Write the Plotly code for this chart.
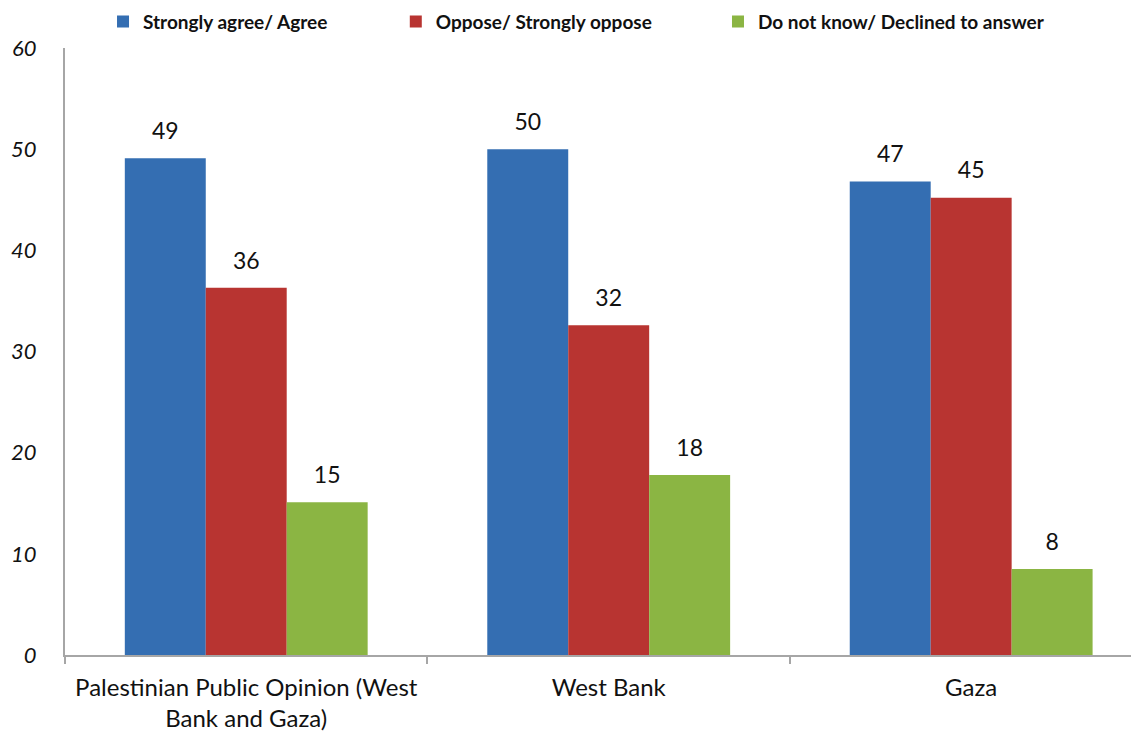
import plotly.graph_objects as go

categories = ["Palestinian Public Opinion (West<br>Bank and Gaza)", "West Bank", "Gaza"]
agree = [49.1, 50.0, 46.8]
oppose = [36.3, 32.6, 45.2]
dont_know = [15.1, 17.8, 8.5]
agree_labels = ["49", "50", "47"]
oppose_labels = ["36", "32", "45"]
dont_know_labels = ["15", "18", "8"]
series_names = ["Strongly agree/ Agree", "Oppose/ Strongly oppose", "Do not know/ Declined to answer"]
colors = ["#346eb2", "#b83431", "#8bb543"]
y_ticks = [0, 10, 20, 30, 40, 50, 60]

FONT = "Lato, 'Open Sans', sans-serif"

fig = go.Figure()
series = [(agree, agree_labels), (oppose, oppose_labels), (dont_know, dont_know_labels)]
legends = ["legend", "legend2", "legend3"]
for i, ((vals, labs), name, col) in enumerate(zip(series, series_names, colors)):
    fig.add_trace(go.Bar(
        x=categories, y=vals, name=name, marker=dict(color=col, line=dict(width=0)),
        offsetgroup=str(i), legend=legends[i], hoverinfo="skip",
    ))
for i, ((vals, labs), name, col) in enumerate(zip(series, series_names, colors)):
    fig.add_trace(go.Scatter(
        x=categories, y=vals, mode="markers+text", text=labs, textposition="top center",
        marker=dict(size=20, opacity=0), textfont=dict(size=23, color="#111111", family=FONT),
        offsetgroup=str(i), showlegend=False, hoverinfo="skip", cliponaxis=False,
    ))

fig.update_layout(
    width=1131, height=724,
    margin=dict(l=57, r=0, t=40, b=77, autoexpand=False),
    paper_bgcolor="white", plot_bgcolor="white",
    barmode="group", bargap=0.33, bargroupgap=0,
    scattermode="group", scattergap=0.33,
    font=dict(family=FONT, color="#111111"),
    xaxis=dict(
        type="category", range=[-0.5, 2.463],
        showline=True, linecolor="#a6a6a6", linewidth=2,
        ticks="outside", ticklen=7, tickcolor="#a6a6a6", tickwidth=2,
        tickson="boundaries", showgrid=False, ticklabelstandoff=10,
        tickfont=dict(size=24, family=FONT, color="#111111"),
    ),
    yaxis=dict(
        range=[0, 60], tickvals=y_ticks, showgrid=False, zeroline=False,
        showline=True, linecolor="#a6a6a6", linewidth=2, ticks="",
        ticklabelstandoff=22,
        tickfont=dict(size=22, family=FONT, color="#111111", style="italic"),
    ),
)
legend_common = dict(orientation="h", yref="container", yanchor="middle", y=0.981,
                     xanchor="left",
                     font=dict(size=19, family=FONT, color="#111111", weight="bold"),
                     bgcolor="rgba(0,0,0,0)", itemsizing="constant", tracegroupgap=0)
fig.update_layout(
    legend=dict(x=0.0354, **legend_common),
    legend2=dict(x=0.308, **legend_common),
    legend3=dict(x=0.608, **legend_common),
)

fig.write_html("out.html")
